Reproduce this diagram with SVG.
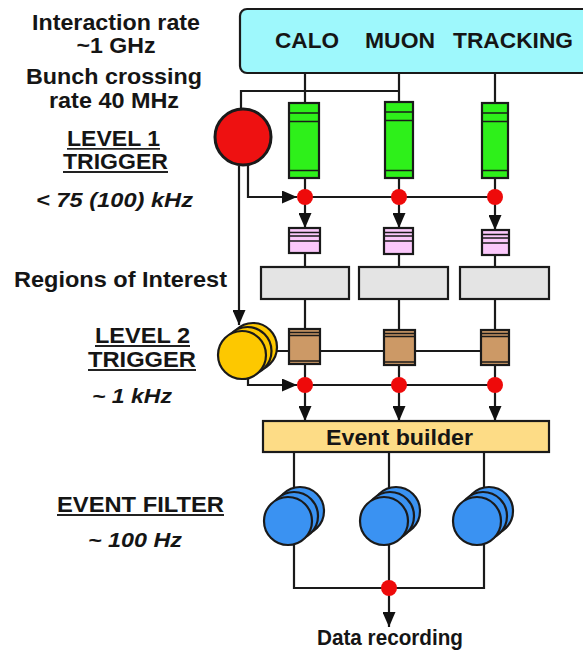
<svg xmlns="http://www.w3.org/2000/svg" width="583" height="655" viewBox="0 0 583 655">
<defs>
<marker id="ah" markerUnits="userSpaceOnUse" markerWidth="15" markerHeight="13" refX="15" refY="6.5" orient="auto">
<path d="M0,0 L15,6.5 L0,13 z" fill="#111"/>
</marker>
<style>
.t{font-family:"Liberation Sans",Arial,Helvetica,sans-serif;font-weight:bold;fill:#151515;text-anchor:middle;font-size:22px}
.i{font-style:italic;font-size:21px}
.ul{stroke:#222;stroke-width:1.8}
.ln{stroke:#1a1a1a;stroke-width:2.2;fill:none}
.bx{stroke:#1a1a1a;stroke-width:2.2}
.st{stroke:#1a1a1a;stroke-width:1.6}
.dot{fill:#ee0a0a}
.grn{fill:#2ef01a}
.pnk{fill:#fbc8fb}
.gry{fill:#e4e4e4}
.brn{fill:#cc9966}
.yel{fill:#fdc800;stroke:#1a1a1a;stroke-width:2.2}
.blu{fill:#3a92f2;stroke:#1a1a1a;stroke-width:2.2}
</style>
</defs>
<rect width="583" height="655" fill="#ffffff"/>

<g id="labels">
<text class="t" x="116" y="30" textLength="168" lengthAdjust="spacingAndGlyphs">Interaction rate</text>
<text class="t" x="116" y="53" textLength="79" lengthAdjust="spacingAndGlyphs">~1 GHz</text>
<text class="t" x="114" y="84" textLength="176" lengthAdjust="spacingAndGlyphs">Bunch crossing</text>
<text class="t" x="114" y="108" textLength="130" lengthAdjust="spacingAndGlyphs">rate 40 MHz</text>
<text class="t" x="113.5" y="145.5" font-size="20" textLength="93" lengthAdjust="spacingAndGlyphs">LEVEL 1</text>
<line class="ul" x1="67" y1="148.8" x2="160" y2="148.8"/>
<text class="t" x="115.5" y="169" font-size="20" textLength="105" lengthAdjust="spacingAndGlyphs">TRIGGER</text>
<line class="ul" x1="63" y1="172" x2="168" y2="172"/>
<text class="t i" x="114.5" y="207" textLength="157" lengthAdjust="spacingAndGlyphs">&lt; 75 (100) kHz</text>
<text class="t" x="120.5" y="287" textLength="213" lengthAdjust="spacingAndGlyphs">Regions of Interest</text>
<text class="t" x="142.5" y="343" font-size="21" textLength="95" lengthAdjust="spacingAndGlyphs">LEVEL 2</text>
<line class="ul" x1="95" y1="346" x2="190" y2="346"/>
<text class="t" x="142" y="367" font-size="21" textLength="108" lengthAdjust="spacingAndGlyphs">TRIGGER</text>
<line class="ul" x1="88" y1="370" x2="196" y2="370"/>
<text class="t i" x="132" y="403" textLength="80" lengthAdjust="spacingAndGlyphs">~ 1 kHz</text>
<text class="t" x="140.5" y="512" textLength="167" lengthAdjust="spacingAndGlyphs">EVENT FILTER</text>
<line class="ul" x1="57" y1="515" x2="224" y2="515"/>
<text class="t i" x="135" y="547" textLength="94" lengthAdjust="spacingAndGlyphs">~ 100 Hz</text>
<text class="t" x="390" y="645" font-size="20" textLength="146" lengthAdjust="spacingAndGlyphs">Data recording</text>
</g>

<g id="connectors">
<path class="ln" d="M305,73 V103 M399,73 V102 M495,73 V103"/>
<path class="ln" d="M241,108 V91 H399"/>
<path class="ln" d="M305,178 V197 M399,178 V197 M495,178 V197 M305,197 H495"/>
<path class="ln" d="M248,165 V197 H297" marker-end="url(#ah)"/>
<path class="ln" d="M305,197 V228" marker-end="url(#ah)"/>
<path class="ln" d="M399,197 V228" marker-end="url(#ah)"/>
<path class="ln" d="M495,197 V230" marker-end="url(#ah)"/>
<path class="ln" d="M305,253 V267 M399,254 V267 M495,255 V267"/>
<path class="ln" d="M305,299 V329 M399,299 V330 M495,299 V330"/>
<path class="ln" d="M262,351 H481"/>
<path class="ln" d="M239,166 V325" marker-end="url(#ah)"/>
<path class="ln" d="M305,364 V385 M399,365 V385 M495,365 V385 M305,385 H495"/>
<path class="ln" d="M248,377 V385 H297" marker-end="url(#ah)"/>
<path class="ln" d="M305,385 V421" marker-end="url(#ah)"/>
<path class="ln" d="M399,385 V421" marker-end="url(#ah)"/>
<path class="ln" d="M495,385 V421" marker-end="url(#ah)"/>
<path class="ln" d="M294,452 V492 M389,452 V492 M484,452 V492"/>
<path class="ln" d="M294,540 V588 H484 V540 M389,540 V588"/>
<path class="ln" d="M389,588 V627" marker-end="url(#ah)"/>
</g>

<g id="detectors">
<rect x="240" y="9" width="352" height="64" rx="7" fill="#9ef8fc" class="bx"/>
<text class="t" x="307" y="48" textLength="64" lengthAdjust="spacingAndGlyphs">CALO</text>
<text class="t" x="400" y="48" textLength="70" lengthAdjust="spacingAndGlyphs">MUON</text>
<text class="t" x="513" y="48" textLength="120" lengthAdjust="spacingAndGlyphs">TRACKING</text>
</g>

<g id="level1-trigger">
<circle cx="243" cy="137" r="28" fill="#ee1111" stroke="#1a1a1a" stroke-width="3"/>
</g>

<g id="pipelines">
<rect x="289" y="103" width="30" height="75" class="grn bx"/>
<path class="st" d="M289,113 H319 M289,121.5 H319 M289,170.5 H319"/>
<rect x="385" y="102" width="28" height="76" class="grn bx"/>
<path class="st" d="M385,112 H413 M385,120.5 H413 M385,170.5 H413"/>
<rect x="482" y="103" width="26" height="75" class="grn bx"/>
<path class="st" d="M482,113 H508 M482,121.5 H508 M482,170.5 H508"/>
</g>

<g id="readout-buffers">
<rect x="289" y="228" width="31" height="25" class="pnk bx"/>
<path class="st" d="M289,232.5 H320 M289,236 H320 M289,241 H320"/>
<rect x="384" y="228" width="29" height="26" class="pnk bx"/>
<path class="st" d="M384,232.5 H413 M384,236 H413 M384,241 H413"/>
<rect x="482" y="230" width="27" height="25" class="pnk bx"/>
<path class="st" d="M482,234.5 H509 M482,238 H509 M482,243 H509"/>
</g>

<g id="regions-of-interest">
<rect x="261" y="267" width="88" height="32" class="gry bx"/>
<rect x="359" y="267" width="89" height="32" class="gry bx"/>
<rect x="460" y="267" width="89" height="32" class="gry bx"/>
</g>

<g id="level2-buffers">
<rect x="289" y="329" width="31" height="35" class="brn bx"/>
<path class="st" d="M289,332.5 H320 M289,335.5 H320 M289,361 H320"/>
<rect x="384" y="330" width="31" height="35" class="brn bx"/>
<path class="st" d="M384,333.5 H415 M384,336.5 H415 M384,362 H415"/>
<rect x="481" y="330" width="28" height="35" class="brn bx"/>
<path class="st" d="M481,333.5 H509 M481,336.5 H509 M481,362 H509"/>
</g>

<g id="level2-trigger">
<circle cx="253" cy="347" r="24" class="yel"/>
<circle cx="247.5" cy="351" r="24" class="yel"/>
<circle cx="242" cy="355" r="24" class="yel"/>
</g>

<g id="decision-points">
<circle cx="305" cy="197" r="8" class="dot"/>
<circle cx="399" cy="197" r="8" class="dot"/>
<circle cx="495" cy="197" r="8" class="dot"/>
<circle cx="305" cy="385" r="8" class="dot"/>
<circle cx="399" cy="385" r="8" class="dot"/>
<circle cx="495" cy="385" r="8" class="dot"/>
<circle cx="389" cy="588" r="8" class="dot"/>
</g>

<g id="event-builder">
<rect x="263" y="421" width="286" height="31" fill="#fddc86" class="bx"/>
<text class="t" x="399.5" y="445" textLength="147" lengthAdjust="spacingAndGlyphs">Event builder</text>
</g>

<g id="event-filter">
<circle cx="300" cy="511" r="24" class="blu"/>
<circle cx="294" cy="516" r="24" class="blu"/>
<circle cx="288" cy="521" r="24" class="blu"/>
<circle cx="396" cy="511" r="24" class="blu"/>
<circle cx="390" cy="516" r="24" class="blu"/>
<circle cx="384" cy="521" r="24" class="blu"/>
<circle cx="489" cy="511" r="24" class="blu"/>
<circle cx="483" cy="516" r="24" class="blu"/>
<circle cx="477" cy="521" r="24" class="blu"/>
</g>
</svg>
